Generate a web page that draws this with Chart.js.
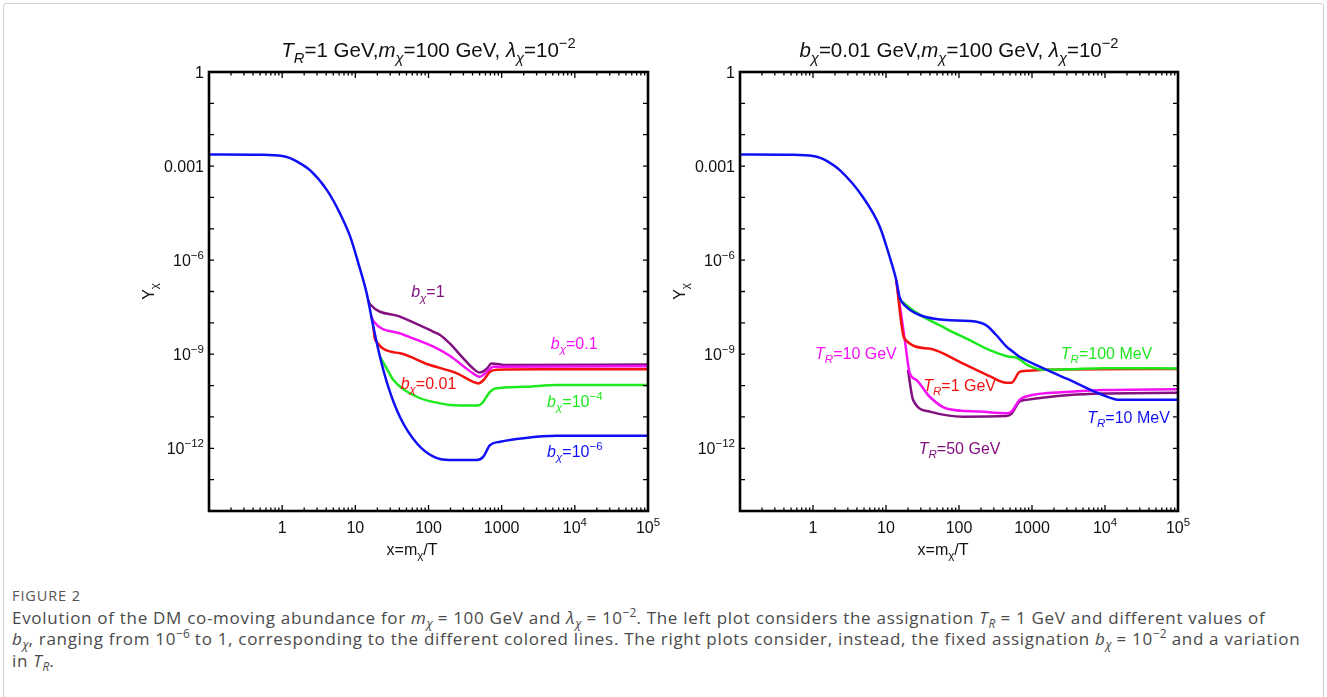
<!DOCTYPE html>
<html>
<head>
<meta charset="utf-8">
<script src="https://cdn.jsdelivr.net/npm/chart.js@4.4.1/dist/chart.umd.min.js"></script>
<style>
html,body{margin:0;padding:0;background:#fff;width:1327px;height:697px;overflow:hidden;}
#card{position:absolute;left:3px;top:3px;width:1319px;height:740px;border:1px solid #cfcfcf;border-radius:3px;}
canvas{position:absolute;left:0;top:0;}
#cap{position:absolute;left:12px;top:585px;font-family:"Open Sans",sans-serif;color:#4a4a4a;font-size:17px;letter-spacing:0.7px;line-height:21.5px;white-space:nowrap;}
#fig{font-size:14.5px;color:#555;letter-spacing:0.9px;}
#cap sub,#cap sup{font-size:70%;line-height:0;letter-spacing:0;}
</style>
</head>
<body>
<div id="card"></div>
<canvas id="c1" width="1327" height="575"></canvas>
<canvas id="c2" width="1327" height="575"></canvas>
<div id="cap">
<div id="fig">FIGURE 2</div>
<div>Evolution of the DM co-moving abundance for <i>m</i><sub><i>χ</i></sub> = 100 GeV and <i>λ</i><sub><i>χ</i></sub> = 10<sup>−2</sup>. The left plot considers the assignation <i>T</i><sub><i>R</i></sub> = 1 GeV and different values of<br><i>b</i><sub><i>χ</i></sub>, ranging from 10<sup>−6</sup> to 1, corresponding to the different colored lines. The right plots consider, instead, the fixed assignation <i>b</i><sub><i>χ</i></sub> = 10<sup>−2</sup> and a variation<br>in <i>T</i><sub><i>R</i></sub>.</div>
</div>
<script>
// ---------------- DATA ----------------
// Axis ticks
const X_TICK_VALUES = [1, 10, 100, 1000, 1e4, 1e5];
const X_TICK_LABELS = [[["1"]], [["10"]], [["100"]], [["1000"]], [["10"], ["4", "p"]], [["10"], ["5", "p"]]];
const Y_TICK_VALUES = [1, 1e-3, 1e-6, 1e-9, 1e-12];
const Y_TICK_LABELS = [[["1"]], [["0.001"]], [["10"], ["−6", "p"]], [["10"], ["−9", "p"]], [["10"], ["−12", "p"]]];

// Left panel: T_R = 1 GeV, varying b_chi
const L_BLUE_X = [0.1, 0.5, 1, 1.26, 1.58, 2.4, 4.07, 6.17, 8.51, 11.0, 14.3, 17.6, 21.7, 28.2, 40.7, 69.2, 117, 195, 457, 562, 692, 955, 1995, 5623, 1e5];
const L_BLUE_Y = [2.34e-3, 2.29e-3, 2.09e-3, 1.82e-3, 1.41e-3, 7.4e-4, 1.74e-4, 3.09e-5, 5.6e-6, 7.9e-7, 8.7e-8, 7.6e-9, 8.3e-10, 9.1e-11, 1.0e-11, 1.45e-12, 5.4e-13, 4.2e-13, 4.2e-13, 5.4e-13, 1.26e-12, 1.62e-12, 2.1e-12, 2.5e-12, 2.5e-12];
const L_GREEN_X = [21.7, 26.9, 33.1, 69.2, 144, 195, 457, 537, 692, 813, 1995, 5623, 1e5];
const L_GREEN_Y = [8.3e-10, 3.5e-10, 1.51e-10, 4.4e-11, 2.7e-11, 2.4e-11, 2.3e-11, 2.7e-11, 6.3e-11, 8.1e-11, 9.1e-11, 1.05e-10, 1.05e-10];
const L_RED_X = [17.6, 18.6, 40.7, 100, 245, 407, 479, 562, 692, 851, 3311, 1e5];
const L_RED_Y = [7.6e-9, 2.95e-9, 1.07e-9, 4.7e-10, 2.45e-10, 1.32e-10, 1.17e-10, 1.48e-10, 2.75e-10, 3.2e-10, 3.3e-10, 3.3e-10];
const L_MAGENTA_X = [16.6, 17.8, 40.7, 117, 195, 407, 501, 631, 767, 1e5];
const L_MAGENTA_Y = [1.6e-8, 1.1e-8, 4.6e-9, 1.74e-9, 8.9e-10, 2.45e-10, 1.9e-10, 2.75e-10, 4.0e-10, 4.1e-10];
const L_PURPLE_X = [15.0, 15.8, 40.7, 117, 144, 195, 299, 407, 501, 631, 724, 1175, 1e5];
const L_PURPLE_Y = [5.2e-8, 4.0e-8, 1.58e-8, 5.2e-9, 4.1e-9, 2.2e-9, 7.4e-10, 3.5e-10, 2.6e-10, 3.5e-10, 5.1e-10, 4.5e-10, 4.7e-10];

// Right panel: b_chi = 0.01 GeV, varying T_R
const R_BLUE_X = [0.1, 0.5, 1, 1.26, 1.58, 2.33, 4.79, 8.22, 11.2, 13.8, 15.3, 18.9, 28.8, 66.1, 140, 234, 324, 447, 550, 676, 1148, 3273, 9333, 15849, 1e5];
const R_BLUE_Y = [2.34e-3, 2.29e-3, 2.09e-3, 1.82e-3, 1.41e-3, 7.4e-4, 1.05e-4, 1.17e-5, 1.29e-6, 2.34e-7, 6.8e-8, 3.3e-8, 1.78e-8, 1.23e-8, 1.15e-8, 8.5e-9, 4.1e-9, 1.74e-9, 1.2e-9, 8.3e-10, 4.5e-10, 1.51e-10, 5.0e-11, 3.5e-11, 3.5e-11];
const R_GREEN_X = [15.5, 25.1, 66.1, 140, 263, 490, 603, 871, 1413, 3162, 9333, 1e5];
const R_GREEN_Y = [5.4e-8, 2.24e-8, 6.6e-9, 2.8e-9, 1.35e-9, 8.3e-10, 7.9e-10, 4.5e-10, 3.2e-10, 3.3e-10, 3.6e-10, 3.5e-10];
const R_RED_X = [13.8, 17.8, 38.9, 112, 263, 447, 525, 676, 832, 1549, 1e5];
const R_RED_Y = [2.34e-7, 3.2e-9, 1.51e-9, 5.1e-10, 2.0e-10, 1.23e-10, 1.23e-10, 2.75e-10, 2.95e-10, 3.2e-10, 3.4e-10];
const R_MAGENTA_X = [13.8, 18.1, 21.2, 26.1, 39.7, 67.1, 191, 445, 521, 676, 832, 3266, 9333, 1e5];
const R_MAGENTA_Y = [2.34e-7, 2.8e-9, 2.45e-10, 1.51e-10, 4.4e-11, 1.86e-11, 1.48e-11, 1.32e-11, 1.48e-11, 3.5e-11, 4.5e-11, 6.3e-11, 7.2e-11, 7.6e-11];
const R_PURPLE_X = [20.0, 23.5, 39.7, 114, 445, 521, 676, 832, 3266, 9333, 1e5];
const R_PURPLE_Y = [3.2e-10, 3.5e-11, 1.48e-11, 1.02e-11, 1.07e-11, 1.26e-11, 3.1e-11, 3.5e-11, 5.0e-11, 5.6e-11, 5.9e-11];

// Titles and curve labels (text segments: flags i=italic, b=subscript, p=superscript)
const LEFT_TITLE = [["T", "i"], ["R", "ib"], ["=1 GeV,"], ["m", "i"], ["χ", "ib"], ["=100 GeV, "], ["λ", "i"], ["χ", "ib"], ["=10"], ["−2", "p"]];
const RIGHT_TITLE = [["b", "i"], ["χ", "ib"], ["=0.01 GeV,"], ["m", "i"], ["χ", "ib"], ["=100 GeV, "], ["λ", "i"], ["χ", "ib"], ["=10"], ["−2", "p"]];
const X_TITLE = [["x=m"], ["χ", "b"], ["/T"]];
const Y_TITLE = [["Y"], ["χ", "b"]];
const LEFT_LABEL_TEXT = [
  [["b", "i"], ["χ", "ib"], ["=1"]],
  [["b", "i"], ["χ", "ib"], ["=0.1"]],
  [["b", "i"], ["χ", "ib"], ["=0.01"]],
  [["b", "i"], ["χ", "ib"], ["=10"], ["−4", "p"]],
  [["b", "i"], ["χ", "ib"], ["=10"], ["−6", "p"]]
];
const LEFT_LABEL_AT_X = [98, 9800, 100, 1e4, 1e4];
const LEFT_LABEL_AT_Y = [1.0e-7, 2.3e-9, 1.2e-10, 3.2e-11, 8.1e-13];
const RIGHT_LABEL_TEXT = [
  [["T", "i"], ["R", "ib"], ["=10 GeV"]],
  [["T", "i"], ["R", "ib"], ["=1 GeV"]],
  [["T", "i"], ["R", "ib"], ["=100 MeV"]],
  [["T", "i"], ["R", "ib"], ["=10 MeV"]],
  [["T", "i"], ["R", "ib"], ["=50 GeV"]]
];
const RIGHT_LABEL_AT_X = [3.87, 102, 1.05e4, 2.1e4, 102];
const RIGHT_LABEL_AT_Y = [1.1e-9, 1.05e-10, 1.1e-9, 1.0e-11, 1.0e-12];

// ---------------- STYLE ----------------
const C_BLUE = "#1010f5", C_RED = "#f51010", C_GREEN = "#1ee81e", C_MAGENTA = "#f510f5", C_PURPLE = "#82107f";
const FAMILY = '"Liberation Sans", Arial, sans-serif';

function segFont(f, size) {
  const small = (f.includes("b") || f.includes("p")) ? size * 0.72 : size;
  return (f.includes("i") ? "italic " : "") + small + "px " + FAMILY;
}
function richWidth(ctx, segs, size) {
  let w = 0;
  for (const [t, f = ""] of segs) { ctx.font = segFont(f, size); w += ctx.measureText(t).width; }
  return w;
}
function drawRich(ctx, segs, x, y, size, color, align) {
  const w = richWidth(ctx, segs, size);
  let cx = align === "center" ? x - w / 2 : align === "right" ? x - w : x;
  ctx.fillStyle = color; ctx.textAlign = "left"; ctx.textBaseline = "alphabetic";
  for (const [t, f = ""] of segs) {
    ctx.font = segFont(f, size);
    const dy = f.includes("b") ? size * 0.27 : f.includes("p") ? -size * 0.42 : 0;
    ctx.fillText(t, cx, y + dy);
    cx += ctx.measureText(t).width;
  }
}

function pts(xs, ys) { return xs.map((x, i) => ({ x: x, y: ys[i] })); }

function makePlugin(title, labelText, labelX, labelY, labelColors, xTitleX) {
  return {
    id: "frameAndText",
    afterDatasetsDraw(chart) {
      const { ctx, chartArea: a, scales: { x, y } } = chart;
      ctx.save();
      ctx.strokeStyle = "#000";
      ctx.lineWidth = 1.3;
      ctx.beginPath();
      for (let e = -1; e <= 5; e++) {
        for (let m = 1; m <= 9; m++) {
          const v = m * Math.pow(10, e);
          if (v < 0.1 || v > 1e5) continue;
          const px = x.getPixelForValue(v);
          const len = m === 1 ? 6 : 3.5;
          ctx.moveTo(px, a.bottom); ctx.lineTo(px, a.bottom - len);
          ctx.moveTo(px, a.top); ctx.lineTo(px, a.top + len);
        }
      }
      for (let e = -14; e <= 0; e++) {
        const py = y.getPixelForValue(Math.pow(10, e));
        ctx.moveTo(a.left, py); ctx.lineTo(a.left + 5, py);
        ctx.moveTo(a.right, py); ctx.lineTo(a.right - 5, py);
      }
      ctx.stroke();
      ctx.lineWidth = 2.6;
      ctx.strokeRect(a.left, a.top, a.right - a.left, a.bottom - a.top);
      X_TICK_VALUES.forEach((v, i) => drawRich(ctx, X_TICK_LABELS[i], x.getPixelForValue(v), a.bottom + 22, 16, "#111", "center"));
      Y_TICK_VALUES.forEach((v, i) => drawRich(ctx, Y_TICK_LABELS[i], a.left - 5, y.getPixelForValue(v) + 5.8, 16, "#111", "right"));
      drawRich(ctx, title, (a.left + a.right) / 2, a.top - 15, 20.5, "#111", "center");
      drawRich(ctx, X_TITLE, a.left + xTitleX, a.bottom + 44, 16, "#111", "center");
      ctx.save();
      ctx.translate(a.left - 55, y.getPixelForValue(1e-7));
      ctx.rotate(-Math.PI / 2);
      drawRich(ctx, Y_TITLE, 0, 0, 16, "#111", "center");
      ctx.restore();
      labelText.forEach((segs, i) => drawRich(ctx, segs, x.getPixelForValue(labelX[i]), y.getPixelForValue(labelY[i]) + 5.8, 16, labelColors[i], "center"));
      ctx.restore();
    }
  };
}

function ds(data, color) {
  return { data: data, borderColor: color, backgroundColor: color, borderWidth: 2.5, pointRadius: 0, fill: false, cubicInterpolationMode: "monotone" };
}

function makeChart(id, padLeft, padRight, datasets, plugin) {
  return new Chart(document.getElementById(id), {
    type: "line",
    data: { datasets: datasets },
    options: {
      responsive: false, animation: false, devicePixelRatio: 1,
      layout: { padding: { left: padLeft, right: padRight, top: 72, bottom: 64 } },
      plugins: { legend: { display: false }, tooltip: { enabled: false } },
      scales: {
        x: { type: "logarithmic", min: 0.1, max: 1e5, display: false },
        y: { type: "logarithmic", min: 1e-14, max: 1, display: false }
      }
    },
    plugins: [plugin]
  });
}

makeChart("c1", 209, 1327 - 648, [
  ds(pts(L_BLUE_X, L_BLUE_Y), C_BLUE),
  ds(pts(L_GREEN_X, L_GREEN_Y), C_GREEN),
  ds(pts(L_RED_X, L_RED_Y), C_RED),
  ds(pts(L_MAGENTA_X, L_MAGENTA_Y), C_MAGENTA),
  ds(pts(L_PURPLE_X, L_PURPLE_Y), C_PURPLE)
], makePlugin(LEFT_TITLE, LEFT_LABEL_TEXT, LEFT_LABEL_AT_X, LEFT_LABEL_AT_Y, [C_PURPLE, C_MAGENTA, C_RED, C_GREEN, C_BLUE], 203));

makeChart("c2", 740, 1327 - 1178, [
  ds(pts(R_BLUE_X, R_BLUE_Y), C_BLUE),
  ds(pts(R_GREEN_X, R_GREEN_Y), C_GREEN),
  ds(pts(R_RED_X, R_RED_Y), C_RED),
  ds(pts(R_MAGENTA_X, R_MAGENTA_Y), C_MAGENTA),
  ds(pts(R_PURPLE_X, R_PURPLE_Y), C_PURPLE)
], makePlugin(RIGHT_TITLE, RIGHT_LABEL_TEXT, RIGHT_LABEL_AT_X, RIGHT_LABEL_AT_Y, [C_MAGENTA, C_RED, C_GREEN, C_BLUE, C_PURPLE], 203));
</script>
</body>
</html>
